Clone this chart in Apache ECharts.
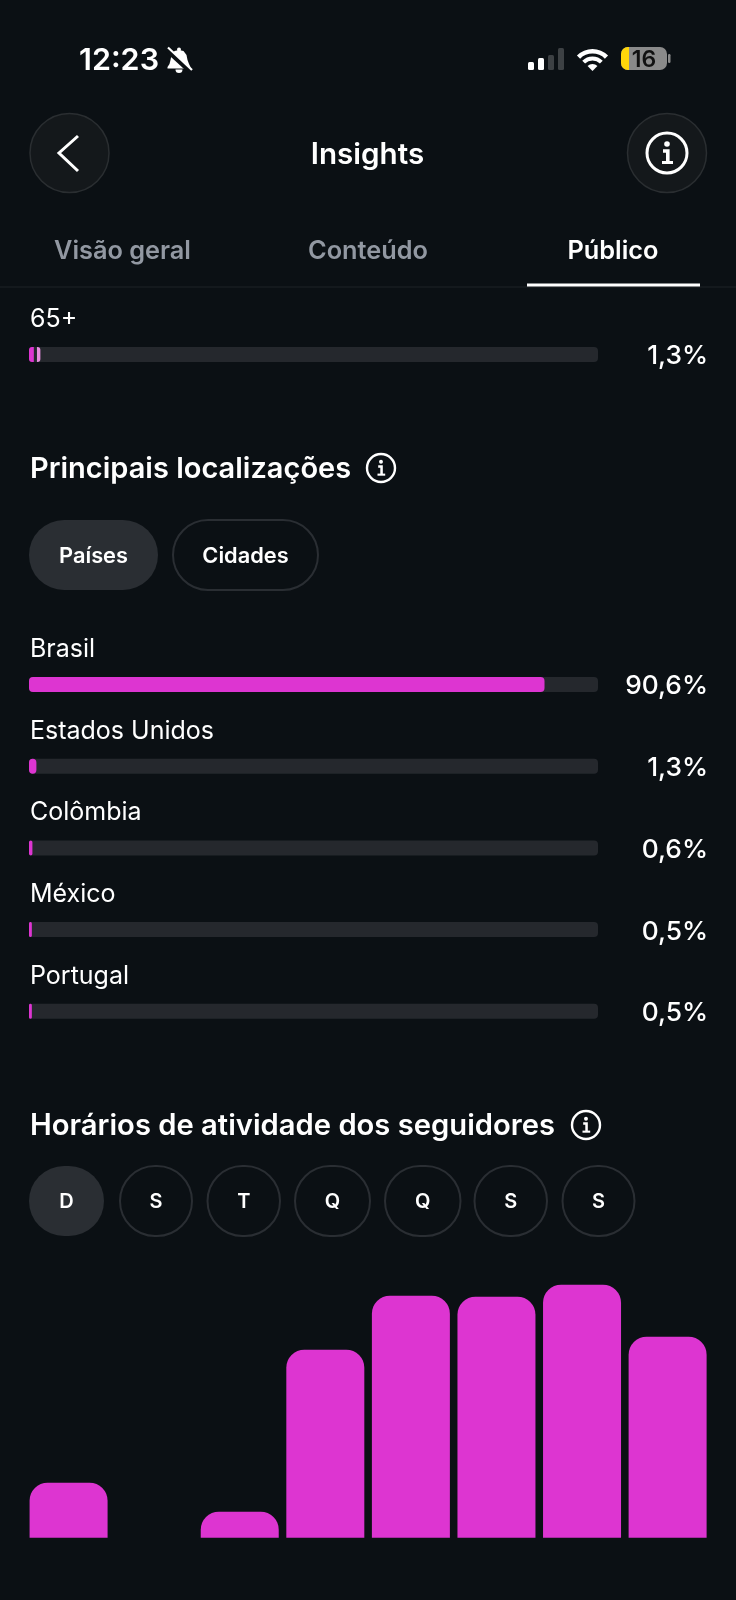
<!DOCTYPE html>
<html lang="pt-BR">
<head>
<meta charset="utf-8">
<title>Insights</title>
<script src="https://cdn.jsdelivr.net/npm/echarts@6/dist/echarts.min.js"></script>
<style>
  html, body { margin: 0; padding: 0; background: #0b1014; }
  #chart { width: 736px; height: 1600px; }
</style>
</head>
<body>
<div id="chart"></div>
<script>
const ageLabels = ['65+'];
const ageValues = [1.3];
// the 65+ bar is split in the screenshot: solid part, gap, pale part
const ageSolid = [0.85];
const ageGap = [0.55];
const agePale = [0.6];

const countries = ['Brasil', 'Estados Unidos', 'Colômbia', 'México', 'Portugal'];
const countryValues = [90.6, 1.3, 0.6, 0.5, 0.5];

const locationTabs = ['Países', 'Cidades'];
const pageTabs = ['Visão geral', 'Conteúdo', 'Público'];
const dayLabels = ['D', 'S', 'T', 'Q', 'Q', 'S', 'S'];

const activitySlots = ['1', '2', '3', '4', '5', '6', '7', '8'];
const activityValues = [55, 0, 26, 188, 242, 241, 253, 201];

const PINK = '#dd35d1';
const TRACK = '#25282d';
const BG = '#0b1014';
const PILL = '#2a2e33';
const FONT = 'Inter, "Noto Sans", sans-serif';

const chart = echarts.init(document.getElementById('chart'));

function percent(value) {
  return String(value).replace('.', ',') + '%';
}

function text(str, x, y, size, weight, color, align) {
  return {
    type: 'text',
    style: {
      text: str, x, y, fill: color || '#fff',
      font: `${weight || 400} ${size}px ${FONT}`,
      textAlign: align || 'left', textVerticalAlign: 'middle'
    }
  };
}

function infoIcon(cx, cy, r, lw) {
  const u = r / 20;
  return [
    { type: 'circle', shape: { cx, cy, r }, style: { fill: 'none', stroke: '#fff', lineWidth: lw } },
    { type: 'circle', shape: { cx, cy: cy - 9 * u, r: 2.8 * u }, style: { fill: '#fff' } },
    { type: 'polyline', shape: { points: [[cx - 4 * u, cy - 2 * u], [cx + 0.8 * u, cy - 2 * u], [cx + 0.8 * u, cy + 9 * u]] }, style: { fill: 'none', stroke: '#fff', lineWidth: 3.6 * u } },
    { type: 'line', shape: { x1: cx - 5 * u, y1: cy + 9.5 * u, x2: cx + 6 * u, y2: cy + 9.5 * u }, style: { stroke: '#fff', lineWidth: 3 * u } }
  ];
}

function roundButton(cx, cy) {
  return { type: 'circle', shape: { cx, cy, r: 39.5 }, style: { fill: '#14181b', stroke: '#2a2e31', lineWidth: 1.5 } };
}

function pill(x, y, w, h, active) {
  return {
    type: 'rect',
    shape: { x, y, width: w, height: h, r: h / 2 },
    style: active ? { fill: PILL } : { fill: 'none', stroke: PILL, lineWidth: 2 }
  };
}

function statusBar() {
  const items = [text('12:23', 79, 61, 30.5, 600)];
  // muted bell
  items.push({ type: 'circle', shape: { cx: 179, cy: 49.5, r: 2 }, style: { fill: '#fff' } });
  items.push({
    type: 'polygon',
    shape: { points: [[179, 50], [183.5, 51], [186.5, 55], [187.5, 60], [189, 64], [190.5, 67], [190.5, 68.5], [167.5, 68.5], [167.5, 67], [169.5, 64], [170.5, 60], [171.5, 55], [174.5, 51]] },
    style: { fill: '#fff' }
  });
  items.push({ type: 'sector', shape: { cx: 179, cy: 69.5, r: 3.5, r0: 0, startAngle: 0, endAngle: Math.PI }, style: { fill: '#fff' } });
  items.push({ type: 'line', shape: { x1: 167, y1: 50, x2: 192, y2: 73 }, style: { stroke: BG, lineWidth: 5 } });
  items.push({ type: 'line', shape: { x1: 168, y1: 47.5, x2: 192, y2: 70 }, style: { stroke: '#fff', lineWidth: 2.2 } });

  // signal
  [[528, 62, '#fff'], [538, 58, '#fff'], [548, 55, '#3d4144'], [558, 48, '#3d4144']].forEach(([x, y, fill]) => {
    items.push({ type: 'rect', shape: { x, y, width: 6, height: 70 - y, r: 1.5 }, style: { fill } });
  });

  // wifi
  const a0 = -Math.PI * 3 / 4;
  const a1 = -Math.PI / 4;
  [[22, 17.5], [14.5, 10.5], [7, 0]].forEach(([r, r0]) => {
    items.push({
      type: 'sector',
      shape: { cx: 592.5, cy: 71, r, r0, startAngle: a0, endAngle: a1, clockwise: true },
      style: { fill: '#fff' }
    });
  });

  // battery
  items.push({ type: 'rect', shape: { x: 621, y: 47, width: 46, height: 23, r: 7 }, style: { fill: '#8a8a8a' } });
  items.push({ type: 'rect', shape: { x: 621, y: 47, width: 8, height: 23, r: [7, 0, 0, 7] }, style: { fill: '#ffd60a' } });
  items.push({ type: 'rect', shape: { x: 668, y: 54, width: 2.5, height: 9, r: 1.2 }, style: { fill: '#8a8a8a' } });
  items.push(text('16', 644, 60, 23, 600, '#111', 'center'));
  return items;
}

function header() {
  const tabCenters = [122.5, 368, 613];
  const items = [
    roundButton(69.5, 153),
    { type: 'polyline', shape: { points: [[78, 136], [59, 153], [78, 171]] }, style: { fill: 'none', stroke: '#fff', lineWidth: 3 } },
    text('Insights', 367.5, 155, 29.6, 600, '#fff', 'center'),
    roundButton(667, 153),
    ...infoIcon(667, 153, 20, 3)
  ];
  pageTabs.forEach((tab, i) => {
    items.push(text(tab, tabCenters[i], 251, 25.3, 600, i === 2 ? '#fff' : '#9298a2', 'center'));
  });
  items.push({ type: 'rect', shape: { x: 0, y: 286.5, width: 736, height: 1 }, style: { fill: '#1e2226' } });
  items.push({ type: 'rect', shape: { x: 527, y: 283.5, width: 173, height: 3 }, style: { fill: '#fff' } });
  return items;
}

function locationSection() {
  const pills = [[29, 129], [173, 145]];
  const items = [
    text('Principais localizações', 30, 469, 29, 600),
    ...infoIcon(381, 468, 14, 2.4)
  ];
  locationTabs.forEach((tab, i) => {
    const [x, w] = pills[i];
    items.push(pill(x, 520, w, 70, i === 0));
    items.push(text(tab, x + w / 2, 556.5, 21.8, 600, '#fff', 'center'));
  });
  return items;
}

function activitySection() {
  const slots = [[29, 75], [120, 72], [207.5, 72.5], [295, 75], [385, 75.5], [474.5, 72.5], [562.5, 72]];
  const items = [
    text('Horários de atividade dos seguidores', 30, 1126, 29.2, 600),
    ...infoIcon(586, 1125, 14, 2.4)
  ];
  dayLabels.forEach((day, i) => {
    const [x, w] = slots[i];
    items.push(pill(x, 1166, w, 70, i === 0));
    items.push(text(day, x + w / 2, 1202, 20, 600, '#fff', 'center'));
  });
  return items;
}

const nameLabel = {
  show: true,
  position: [1, -40],
  formatter: '{b}',
  color: '#fff',
  fontFamily: FONT,
  fontSize: 25
};

function hiddenValueAxis(gridIndex) {
  return { type: 'value', gridIndex, min: 0, max: 100, show: false };
}

function nameAxis(gridIndex, labels) {
  return { type: 'category', gridIndex, inverse: true, data: labels, show: false };
}

function percentAxis(gridIndex, labels) {
  return {
    type: 'category',
    gridIndex,
    inverse: true,
    position: 'right',
    data: labels,
    axisLine: { show: false },
    axisTick: { show: false },
    axisLabel: { align: 'right', verticalAlign: 'top', lineHeight: 4, margin: 110, color: '#fff', fontFamily: FONT, fontSize: 26.3, fontWeight: 500 }
  };
}

const trackBar = {
  type: 'bar',
  barWidth: 15,
  showBackground: true,
  backgroundStyle: { color: TRACK, borderRadius: 4 }
};

chart.setOption({
  backgroundColor: BG,
  animation: false,
  grid: [
    { left: 29, width: 569, top: 313.65, height: 81.7 },
    { left: 29, width: 569, top: 643.65, height: 408.5 },
    { left: 25.8, width: 684.6, top: 1277.7, height: 260 }
  ],
  xAxis: [
    hiddenValueAxis(0),
    hiddenValueAxis(1),
    { type: 'category', gridIndex: 2, data: activitySlots, show: false }
  ],
  yAxis: [
    nameAxis(0, ageLabels),
    percentAxis(0, ageValues.map(percent)),
    nameAxis(1, countries),
    percentAxis(1, countryValues.map(percent)),
    { type: 'value', gridIndex: 2, min: 0, max: 260, show: false }
  ],
  series: [
    {
      ...trackBar,
      name: 'Faixa etária',
      stack: 'age',
      xAxisIndex: 0,
      yAxisIndex: 0,
      data: ageSolid,
      itemStyle: { color: PINK, borderRadius: [3, 0, 0, 3] },
      label: nameLabel
    },
    { type: 'bar', stack: 'age', barWidth: 15, xAxisIndex: 0, yAxisIndex: 0, data: ageGap, itemStyle: { color: 'transparent' } },
    { type: 'bar', stack: 'age', barWidth: 15, xAxisIndex: 0, yAxisIndex: 0, data: agePale, itemStyle: { color: '#e88fe0', borderRadius: [0, 3, 3, 0] } },
    {
      ...trackBar,
      name: 'Principais localizações',
      xAxisIndex: 1,
      yAxisIndex: 2,
      data: countryValues,
      itemStyle: { color: PINK, borderRadius: 4 },
      label: nameLabel
    },
    {
      type: 'bar',
      name: 'Horários de atividade',
      xAxisIndex: 2,
      yAxisIndex: 4,
      barWidth: 78,
      data: activityValues,
      itemStyle: { color: PINK, borderRadius: [18, 18, 0, 0] }
    }
  ],
  graphic: { elements: [...statusBar(), ...header(), ...locationSection(), ...activitySection()] }
});

window.addEventListener('resize', () => {
  chart.resize();
});
</script>
</body>
</html>
